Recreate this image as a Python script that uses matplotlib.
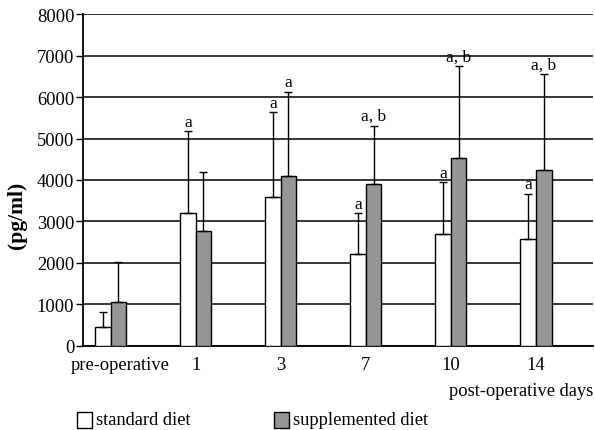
import matplotlib
matplotlib.use("Agg")
import matplotlib.pyplot as plt
from matplotlib.patches import Rectangle
import matplotlib.transforms as mtransforms
import numpy as np

categories = ["pre-operative", "1", "3", "7", "10", "14"]
standard = [460, 3200, 3590, 2215, 2700, 2580]
standard_err = [360, 1985, 2040, 990, 1240, 1090]
supplemented = [1065, 2780, 4100, 3905, 4525, 4230]
supplemented_err = [945, 1425, 2030, 1410, 2230, 2325]
standard_labels = ["", "a", "a", "a", "a", "a"]
supplemented_labels = ["", "", "a", "a, b", "a, b", "a, b"]
yticks = [0, 1000, 2000, 3000, 4000, 5000, 6000, 7000, 8000]

plt.rcParams['font.family'] = ['Liberation Serif', 'DejaVu Serif']

fig = plt.figure(figsize=(5.95, 4.31), dpi=100)
ax = fig.add_axes([0.140, 0.1956, 0.8566, 0.7689])

x = np.arange(len(categories))
w = 0.183
ax.bar(x - w/2, standard, w, color='white', edgecolor='black', linewidth=1.0, zorder=3)
ax.bar(x + w/2, supplemented, w, color='#969696', edgecolor='black', linewidth=1.0, zorder=3)
ax.errorbar(x - w/2, standard, yerr=[np.zeros(len(x)), standard_err], fmt='none',
            ecolor='black', elinewidth=1.0, capsize=3, capthick=1.0, zorder=4)
ax.errorbar(x + w/2, supplemented, yerr=[np.zeros(len(x)), supplemented_err], fmt='none',
            ecolor='black', elinewidth=1.0, capsize=3, capthick=1.0, zorder=4)

for i in range(len(x)):
    if standard_labels[i]:
        ax.annotate(standard_labels[i], (x[i] - w/2, standard[i] + standard_err[i]),
                    xytext=(0, 1.0), textcoords='offset points', ha='center', va='bottom', fontsize=12.5)
    if supplemented_labels[i]:
        ax.annotate(supplemented_labels[i], (x[i] + w/2, supplemented[i] + supplemented_err[i]),
                    xytext=(0, 1.0), textcoords='offset points', ha='center', va='bottom', fontsize=12.5)

ax.set_ylim(0, 8000)
ax.set_xlim(-0.32, 5.67)
ax.set_yticks(yticks)
ax.set_yticklabels([str(t) for t in yticks], fontsize=13.3)
ax.yaxis.grid(True, color='black', linewidth=1.1, zorder=0)
ax.set_axisbelow(True)
ax.set_xticks(x)
ax.set_xticklabels(categories, fontsize=13.3)
ax.tick_params(axis='x', length=0, pad=7.5)
ax.tick_params(axis='y', length=5, width=1.0, direction='out', pad=1.5)
for s in ['top', 'right']:
    ax.spines[s].set_visible(False)
for s in ['left', 'bottom']:
    ax.spines[s].set_linewidth(1.3)

lbl = ax.get_xticklabels()[0]
lbl.set_transform(lbl.get_transform() + mtransforms.ScaledTranslation(0.095, 0, fig.dpi_scale_trans))

ax.set_ylabel("(pg/ml)", fontsize=15.5, fontweight='bold')
ax.yaxis.set_label_coords(17/595, 0.5, transform=fig.transFigure)
ax.yaxis.label.set_va('center')

fig.text(0.9966, 1 - 392/431, "post-operative days", ha='right', va='center', fontsize=13.3)

# legend
def legend_item(x0, color, text):
    fig.add_artist(Rectangle((x0/595, 1 - 429/431), 15/595, 16/431, transform=fig.transFigure,
                             facecolor=color, edgecolor='black', linewidth=1.0))
    fig.text((x0 + 19)/595, 1 - 421/431, text, ha='left', va='center', fontsize=13.3)

legend_item(77, 'white', 'standard diet')
legend_item(274, '#969696', 'supplemented diet')

fig.savefig("out.png", dpi=100)
